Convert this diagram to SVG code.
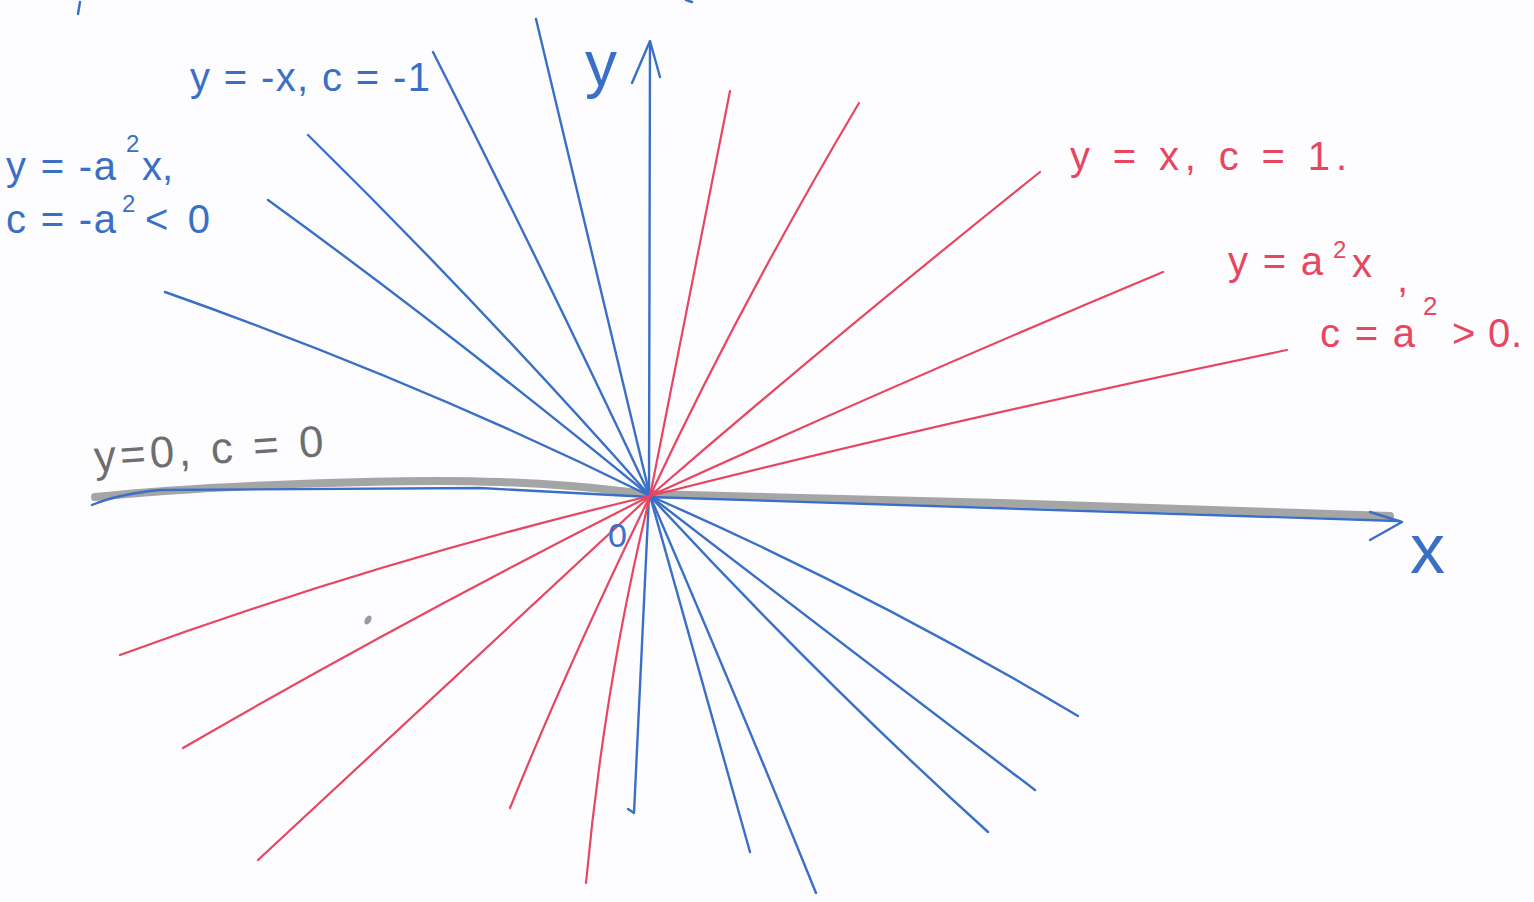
<svg xmlns="http://www.w3.org/2000/svg" width="1534" height="902" viewBox="0 0 1534 902">
<style>
.bl{fill:none;stroke:#3a6fc6;stroke-width:2.4;stroke-linecap:round;stroke-linejoin:round}
.rd{fill:none;stroke:#e84560;stroke-width:2.2;stroke-linecap:round;stroke-linejoin:round}
.t{font-family:"Liberation Sans","DejaVu Sans",sans-serif}
.tb{fill:#3a6fc6}
.tr{fill:#e84560}
.tg{fill:#6e6e6e}
</style>
<rect width="1534" height="902" fill="#fdfdff"/>
<g id="marks">
<path class="bl" d="M80,2 L78,14"/>
<path class="bl" d="M686,0 L692,2"/>
<ellipse cx="368" cy="620" rx="3" ry="5" fill="#9a9a9a" transform="rotate(30 368 620)"/>
</g>
<g id="axes">
<path id="x-band" d="M95,497 C200,486 400,478 500,482 S620,492 650,494 L1000,503 L1390,516" fill="none" stroke="#7f7f7f" stroke-opacity="0.7" stroke-width="8" stroke-linecap="round"/>
<path id="x-axis" class="bl" d="M92,505 Q118,494 160,490 L480,488 L650,497 L1398,521"/>
<path class="bl" d="M1370,512 L1402,522 L1370,540"/>
<path id="y-axis" class="bl" d="M650,42 L649,496 L634,813 L628,809"/>
<path class="bl" d="M632,83 L650,41 L660,77"/>
<circle cx="650" cy="496" r="3.5" fill="#1e2a4a"/>
</g>
<g id="connectors">
<path class="bl" d="M536,19 L650,496 L750,852"/>
<path class="bl" d="M433,52 Q540,262 650,496 Q738,700 816,893"/>
<path class="bl" d="M308,135 Q478,302 650,496 Q820,680 988,832"/>
<path class="bl" d="M268,200 Q450,332 650,496 Q850,650 1035,790"/>
<path class="bl" d="M165,292 Q420,382 650,496 Q870,592 1078,716"/>
<path class="rd" d="M730,91 L650,496 Q605,680 586,883"/>
<path class="rd" d="M859,103 Q742,300 650,496 Q570,660 510,808"/>
<path class="rd" d="M1040,172 Q830,340 650,496 Q450,682 258,860"/>
<path class="rd" d="M1163,272 Q900,382 650,496 Q400,622 183,748"/>
<path class="rd" d="M1287,350 Q950,420 650,496 Q380,560 120,655"/>
</g>
<g id="label-y-axis"><text class="t tb" x="585" y="86" font-size="64">y</text></g>
<g id="label-x-axis"><text class="t tb" x="1410" y="573" font-size="70">x</text></g>
<g id="label-origin"><text class="t tb" x="608" y="547" font-size="34">0</text></g>
<g id="label-minus-x">
<text class="t tb" x="190" y="91" font-size="40" textLength="240" lengthAdjust="spacing">y = -x, c = -1</text>
</g>
<g id="label-minus-a2">
<text class="t tb" x="6" y="180" font-size="40" textLength="110" lengthAdjust="spacing">y = -a</text>
<text class="t tb" x="126" y="152" font-size="24">2</text>
<text class="t tb" x="142" y="180" font-size="40">x,</text>
<text class="t tb" x="6" y="233" font-size="40" textLength="110" lengthAdjust="spacing">c = -a</text>
<text class="t tb" x="122" y="212" font-size="24">2</text>
<text class="t tb" x="145" y="233" font-size="40" textLength="65" lengthAdjust="spacing">&lt; 0</text>
</g>
<g id="label-plus-x">
<text class="t tr" x="1070" y="170" font-size="40" textLength="277" lengthAdjust="spacing">y = x, c = 1.</text>
</g>
<g id="label-plus-a2">
<text class="t tr" x="1228" y="275" font-size="40" textLength="95" lengthAdjust="spacing">y = a</text>
<text class="t tr" x="1333" y="258" font-size="24">2</text>
<text class="t tr" x="1352" y="277" font-size="40">x</text>
<text class="t tr" x="1397" y="292" font-size="40">,</text>
<text class="t tr" x="1320" y="347" font-size="40" textLength="95" lengthAdjust="spacing">c = a</text>
<text class="t tr" x="1423" y="315" font-size="26">2</text>
<text class="t tr" x="1452" y="347" font-size="40" textLength="70" lengthAdjust="spacing">&gt; 0.</text>
</g>
<g id="label-zero">
<text class="t tg" x="95" y="472" font-size="44" textLength="230" lengthAdjust="spacing" transform="rotate(-4 95 472)">y=0, c = 0</text>
</g>
</svg>
